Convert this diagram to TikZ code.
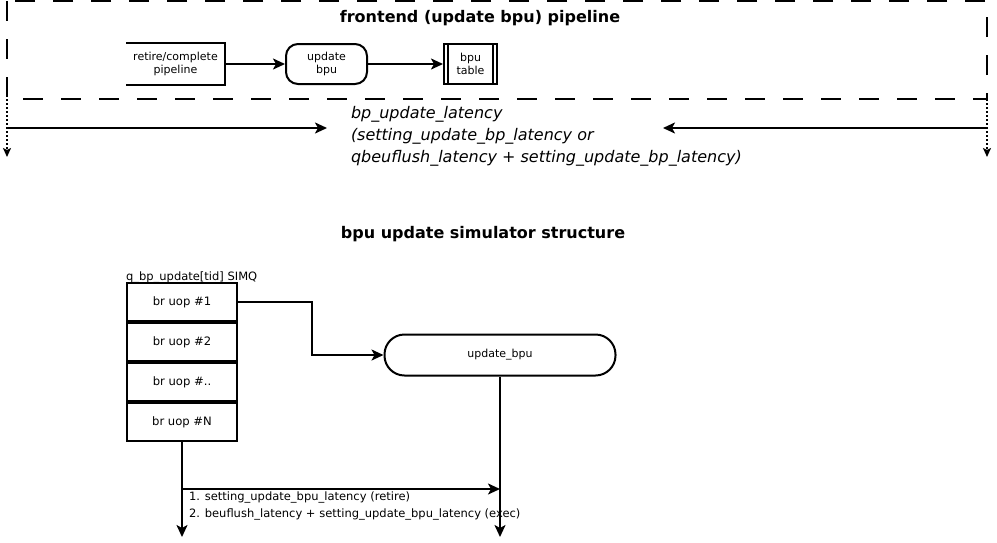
\documentclass[tikz,border=0pt]{standalone}
\usepackage{fontspec}
\setmainfont{DejaVu Sans}
\usepackage{tikz}
\usetikzlibrary{arrows.meta}
\usetikzlibrary{positioning}

\begin{document}
\begin{tikzpicture}[x=1pt,y=-1pt,line width=2pt,
    >={Stealth[length=12pt,width=11pt,inset=3pt]},
    txt/.style={font=\fontsize{11}{13}\selectfont,align=center,inner sep=0pt},
    small/.style={font=\fontsize{11.5}{17}\selectfont,align=left,inner sep=0pt},
    ttl/.style={font=\fontsize{16}{18}\selectfont\bfseries,inner sep=0pt},
    cell/.style={draw,font=\fontsize{11.6}{13}\selectfont,inner sep=0pt,minimum width=110pt,minimum height=38pt}]
\useasboundingbox (0,0) rectangle (997,542);
% frontend pipeline
\draw[dash pattern=on 20pt off 18pt] (7,1) rectangle (987,99);
\node (ttlfe) [ttl] at (480,18) {frontend (update bpu) pipeline};
\node (retire) [txt,minimum width=97pt,minimum height=40pt] at (175.5,64) {retire/complete\\pipeline};
\draw (retire.north west) -- (retire.north east) -- (retire.south east) -- (retire.south west);
\node (updbpu) [txt,draw,rounded corners=12pt,minimum width=81pt,minimum height=40pt] at (326.5,64) {update\\bpu};
\node (bputbl) [txt,draw,minimum width=53pt,minimum height=40pt] at (470.5,64) {bpu\\table};
\draw ([xshift=5pt]bputbl.north west) -- ([xshift=5pt]bputbl.south west);
\draw ([xshift=-5pt]bputbl.north east) -- ([xshift=-5pt]bputbl.south east);
\draw[->] (retire) -- (updbpu);
\draw[->] (updbpu) -- (bputbl);
% latency
\coordinate (lt) at (7,99);
\coordinate (lb) at (7,157);
\coordinate (rt) at (987,99);
\coordinate (rb) at (987,157);
\draw[-{Stealth[length=9pt,width=8pt,inset=2pt]},dash pattern=on 2pt off 2pt] (lt) -- (lb);
\draw[-{Stealth[length=9pt,width=8pt,inset=2pt]},dash pattern=on 2pt off 2pt] (rt) -- (rb);
\node (lat) [anchor=west,align=left,inner sep=0pt,font=\fontsize{16}{22}\selectfont\itshape] at (350,136)
  {bp\_update\_latency\\(setting\_update\_bp\_latency or\\qbeuflush\_latency + setting\_update\_bp\_latency)};
\coordinate (la) at (7,128);
\coordinate (ra) at (987,128);
\draw[->] (la) -- (327,128);
\draw[->] (ra) -- (663,128);
% simulator structure
\node (ttlsim) [ttl] at (483,234) {bpu update simulator structure};
\node (simq) [small,anchor=base west] at (125,280) {q\_bp\_update[tid] SIMQ};
\node (uop1) [cell] at (182,302) {br uop \#1};
\node (uop2) [cell,below=0pt of uop1] {br uop \#2};
\node (uop3) [cell,below=0pt of uop2] {br uop \#..};
\node (uopn) [cell,below=0pt of uop3] {br uop \#N};
\node (bpu) [txt,draw,rounded corners=20pt,minimum width=231pt,minimum height=41pt] at (500,355) {update\_bpu};
\draw[->] (uop1.east) -- ++(74,0) |- (bpu.west);
\coordinate (qend) at (182,537);
\coordinate (bend) at (500,537);
\coordinate (split) at (182,489);
\draw[->] (uopn.south) -- (qend);
\draw[->] (bpu.south) -- (bend);
\draw[->] (split) -- (split -| bpu.south);
\node (lbl) [small,anchor=west] at (188,506)
  {1. setting\_update\_bpu\_latency (retire)\\2. beuflush\_latency + setting\_update\_bpu\_latency (exec)};
\end{tikzpicture}
\end{document}
